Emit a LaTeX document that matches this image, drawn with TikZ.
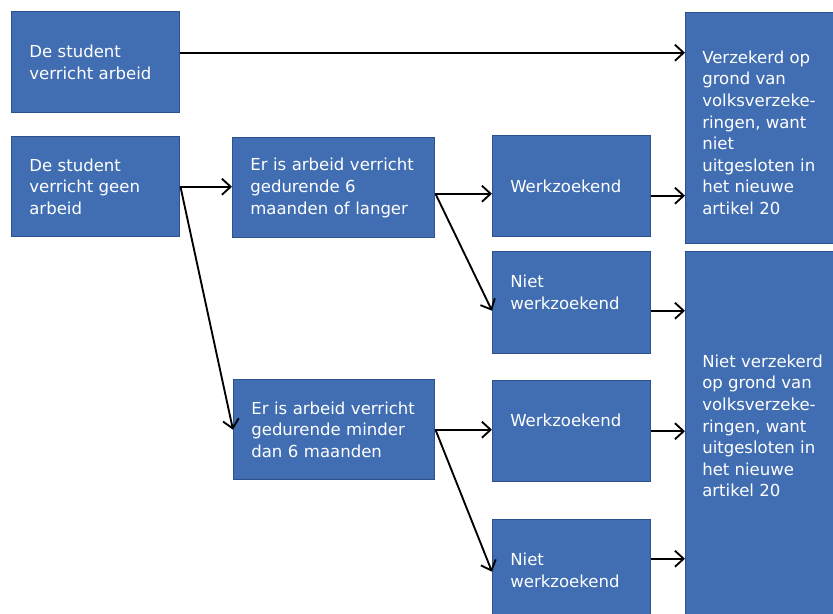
\documentclass[tikz,border=0pt]{standalone}
\usepackage{fontspec}
\setmainfont{DejaVu Sans}
\usetikzlibrary{arrows.meta,calc}
\definecolor{boxfill}{RGB}{65,110,178}
\definecolor{boxline}{RGB}{46,80,140}
\tikzset{
  box/.style={draw=boxline, fill=boxfill, line width=1.1pt, text=white,
    align=left, inner xsep=13.2pt, inner ysep=1pt,
    font=\fontsize{12.4}{16.4}\selectfont},
  boxtext/.style={text=white, align=left, inner sep=0pt,
    font=\fontsize{12.4}{16.2}\selectfont},
  arr/.style={draw=black, line width=1.4pt,
    -{Straight Barb[length=6.5pt,width=12pt,line width=1.4pt]}}
}
\newcommand\flowbox[6]{%
  \pgfmathsetmacro\bw{(#4-#2)*0.75}%
  \pgfmathsetmacro\bh{(#5-#3)*0.75}%
  \pgfmathsetmacro\tw{\bw-2*13.2}%
  \node[box, anchor=north west, minimum width=\bw pt, minimum height=\bh pt,
        text width=\tw pt] (#1) at (#2,#3) {#6};%
}
\begin{document}
\begin{tikzpicture}[x=0.75pt,y=-0.75pt]
\useasboundingbox (0,0) rectangle (833,614);
\clip (0,0) rectangle (833,614);
\fill[white] (0,0) rectangle (833,614);

\flowbox{A}{11}{11}{179}{112}{De student\\verricht arbeid}
\flowbox{B}{11}{136}{179}{236}{De student\\verricht geen\\arbeid}
\flowbox{C}{232}{137}{434}{237}{Er is arbeid verricht\\gedurende 6\\maanden of langer}
\flowbox{C2}{233}{379}{434}{479}{Er is arbeid verricht\\gedurende minder\\dan 6 maanden}
\flowbox{W1}{492}{135}{650}{236}{Werkzoekend}
\flowbox{N1}{492}{251}{650}{353}{Niet\\werkzoekend\\\mbox{}}
\flowbox{W2}{492}{380}{650}{481}{Werkzoekend\\\mbox{}}
\flowbox{N2}{492}{519}{650}{620}{Niet\\werkzoekend}
\flowbox{R1}{685}{12}{850}{243}{}
\flowbox{R2}{685}{251}{850}{640}{}

\node[boxtext, anchor=north west] (R1t) at (702,50.5)
  {Verzekerd op\\grond van\\volksverzeke-\\ringen, want\\niet\\uitgesloten in\\het nieuwe\\artikel 20};
\node[boxtext, anchor=north west] (R2t) at (702,354.5)
  {Niet verzekerd\\op grond van\\volksverzeke-\\ringen, want\\uitgesloten in\\het nieuwe\\artikel 20};

% connectors
\draw[arr] ($(A.east)+(0,-9.5)$) coordinate (a1) -- (a1 -| R1.west);
\draw[arr] (B.east) -- (B.east -| C.west);
\draw[arr] (B.east) -- (C2.west);
\draw[arr] ($(C.east)+(0,6)$) coordinate (c1) -- (c1 -| W1.west);
\draw[arr] (c1) -- ($(N1.west)+(0,8)$);
\draw[arr] ($(W1.east)+(0,9.5)$) coordinate (w1) -- (w1 -| R1.west);
\draw[arr] ($(N1.east)+(0,8)$) coordinate (n1) -- (n1 -| R2.west);
\draw[arr] (C2.east) -- (C2.east -| W2.west);
\draw[arr] (C2.east) -- ($(N2.west)+(0,1.5)$);
\draw[arr] (W2.east) -- (W2.east -| R2.west);
\draw[arr] ($(N2.east)+(0,-11.5)$) coordinate (n2) -- (n2 -| R2.west);
\end{tikzpicture}
\end{document}
